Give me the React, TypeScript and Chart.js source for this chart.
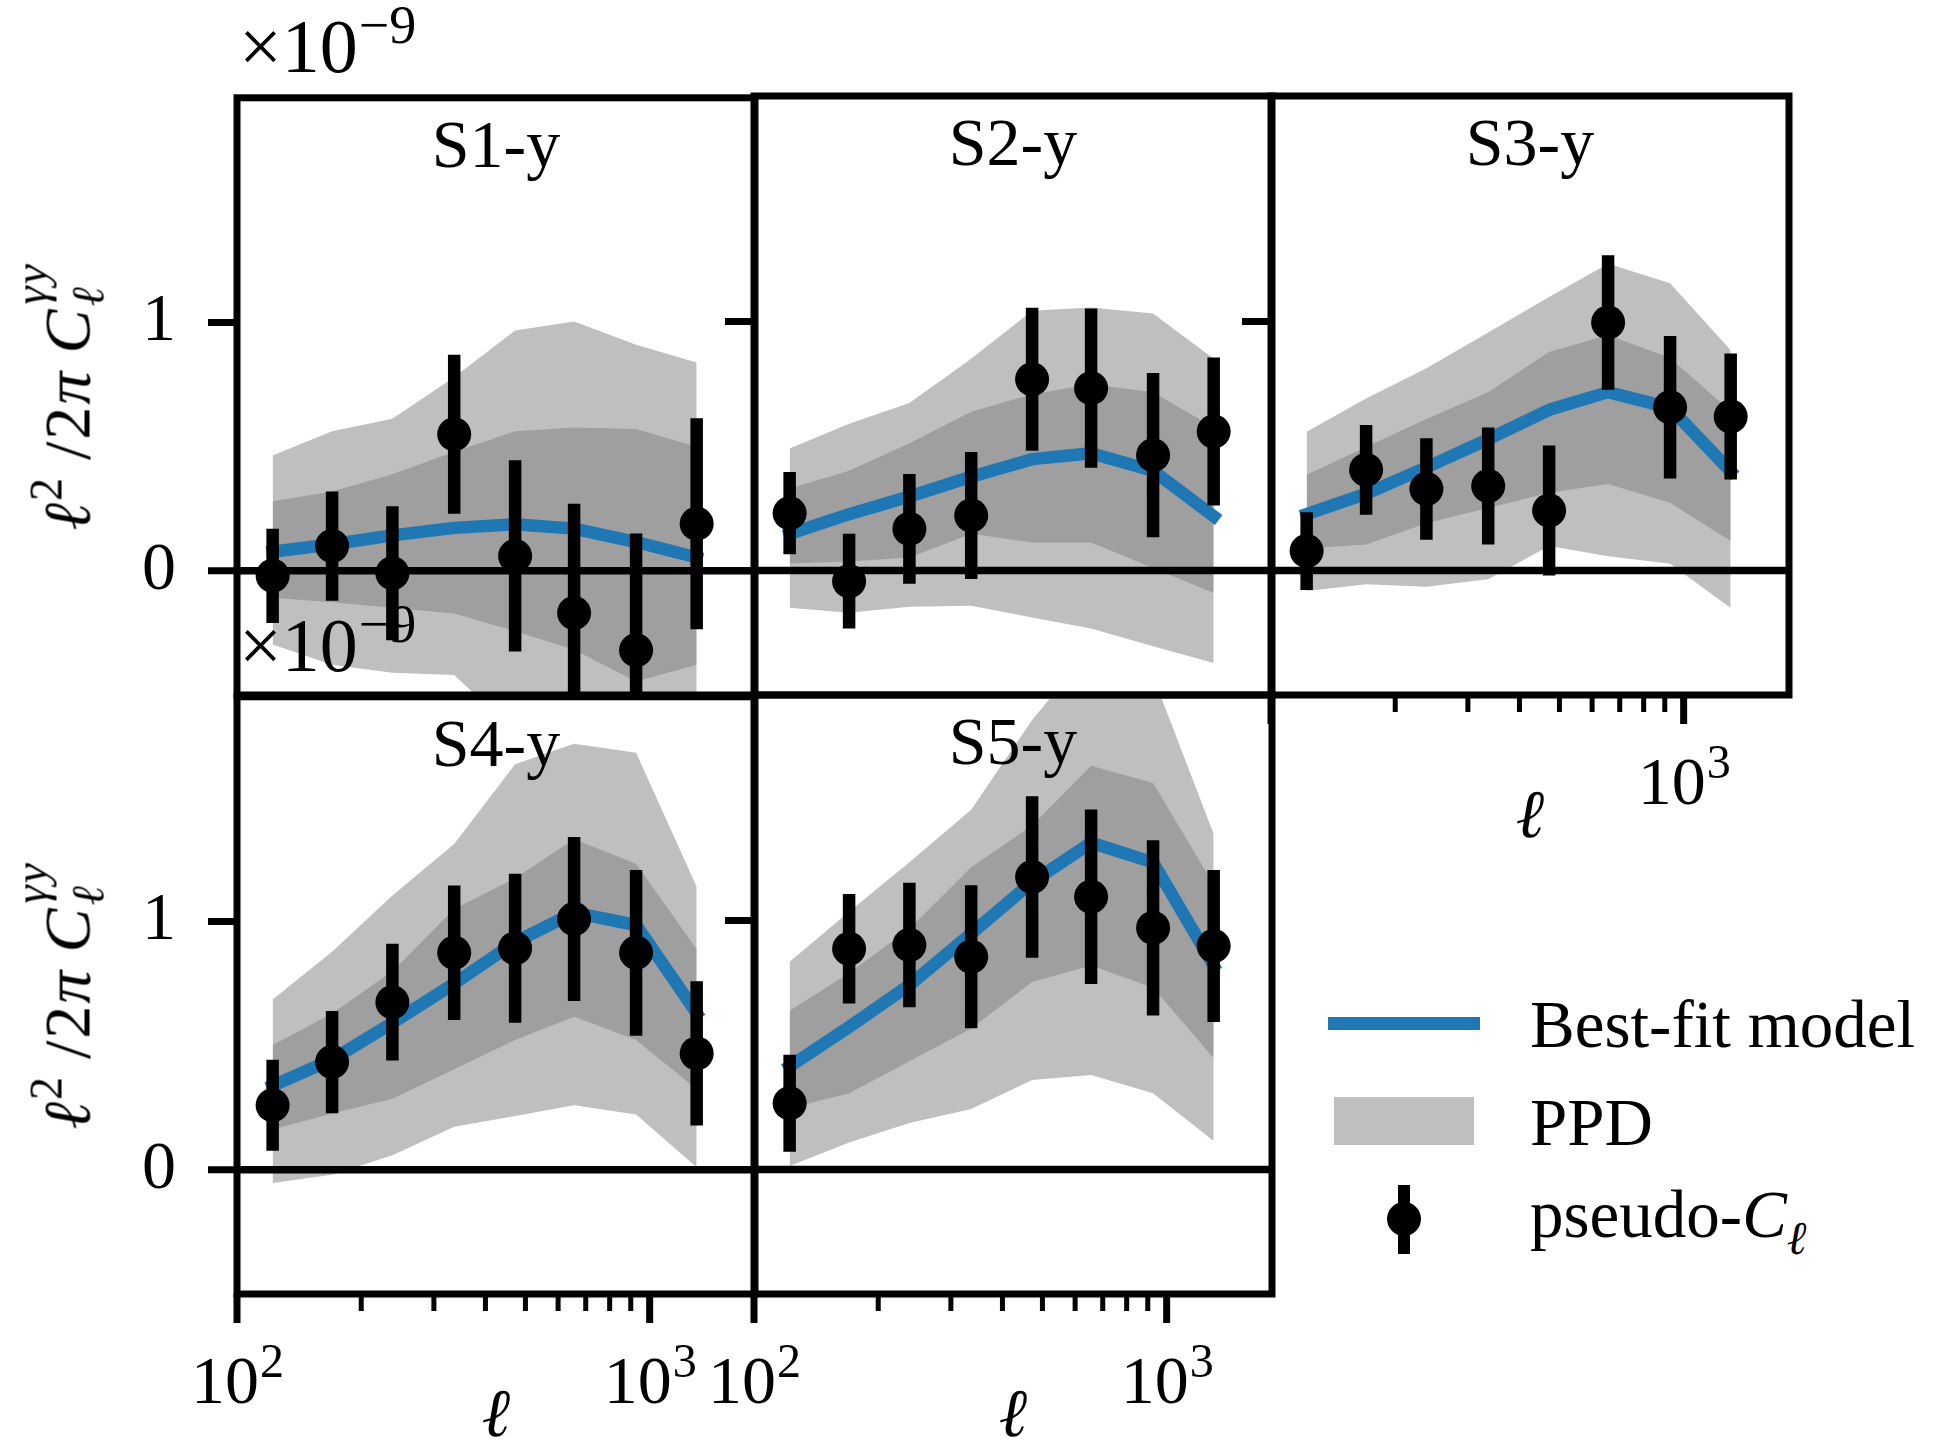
import React, { useEffect, useRef } from "react";
import { Chart, registerables } from "chart.js";

Chart.register(...registerables);

const FONT = '"Liberation Serif", "DejaVu Serif", serif';
const BLUE = "#1f77b4";
const BAND = "rgba(128,128,128,0.5)";

// ---------- data ----------
const ELL = [122, 170, 238, 336, 472, 656, 927, 1300];
const X_MIN = 100;
const X_MAX = 1800;
const Y_MIN = -0.5;
const Y_MAX = 1.905;
const Y_TICKS = [0, 1];
const X_MAJOR_TICKS = [100, 1000];
const X_MINOR_TICKS = [200, 300, 400, 500, 600, 700, 800, 900];
const X_TICK_EXPONENTS = ["2", "3"];
const OFFSET_TEXT = ["×10", "−9"];
const X_TITLE = "ℓ";
const PANEL_NAMES = ["S1-y", "S2-y", "S3-y", "S4-y", "S5-y"];
const LEGEND_LABELS = ["Best-fit model", "PPD", "pseudo-"];

const S1_CL = [-0.02, 0.1, -0.01, 0.55, 0.06, -0.17, -0.32, 0.19];
const S1_ERR = [0.19, 0.22, 0.27, 0.32, 0.385, 0.44, 0.47, 0.425];
const S1_FIT = [0.077, 0.107, 0.143, 0.173, 0.188, 0.17, 0.116, 0.054];
const S1_P95_HI = [0.464, 0.562, 0.612, 0.78, 0.968, 1.004, 0.911, 0.839];
const S1_P95_LO = [-0.297, -0.378, -0.41, -0.419, -0.65, -0.7, -0.72, -0.7];
const S1_P68_HI = [0.28, 0.32, 0.389, 0.48, 0.562, 0.577, 0.571, 0.5];
const S1_P68_LO = [-0.108, -0.126, -0.149, -0.172, -0.243, -0.318, -0.446, -0.378];

const S2_CL = [0.23, -0.043, 0.167, 0.221, 0.768, 0.732, 0.463, 0.558];
const S2_ERR = [0.165, 0.19, 0.22, 0.255, 0.287, 0.32, 0.33, 0.297];
const S2_FIT = [0.147, 0.226, 0.297, 0.376, 0.447, 0.471, 0.4, 0.218];
const S2_P95_HI = [0.49, 0.589, 0.672, 0.85, 1.043, 1.056, 1.032, 0.85];
const S2_P95_LO = [-0.15, -0.17, -0.146, -0.142, -0.189, -0.233, -0.304, -0.372];
const S2_P68_HI = [0.329, 0.4, 0.511, 0.637, 0.708, 0.748, 0.716, 0.574];
const S2_P68_LO = [0.028, 0.036, 0.052, 0.147, 0.112, 0.112, 0.01, -0.09];

const S3_CL = [0.078, 0.404, 0.327, 0.339, 0.241, 0.996, 0.655, 0.618];
const S3_ERR = [0.156, 0.18, 0.204, 0.235, 0.261, 0.27, 0.286, 0.253];
const S3_FIT = [0.226, 0.308, 0.414, 0.527, 0.645, 0.716, 0.653, 0.398];
const S3_P95_HI = [0.557, 0.69, 0.812, 0.955, 1.098, 1.231, 1.153, 0.884];
const S3_P95_LO = [-0.082, -0.055, -0.065, -0.035, 0.098, 0.057, 0.027, -0.151];
const S3_P68_HI = [0.384, 0.496, 0.608, 0.716, 0.877, 0.945, 0.853, 0.639];
const S3_P68_LO = [0.088, 0.104, 0.19, 0.251, 0.312, 0.347, 0.272, 0.118];

const S4_CL = [0.26, 0.434, 0.675, 0.874, 0.892, 1.01, 0.874, 0.469];
const S4_ERR = [0.183, 0.206, 0.235, 0.271, 0.3, 0.33, 0.334, 0.29];
const S4_FIT = [0.339, 0.444, 0.592, 0.75, 0.917, 1.036, 0.986, 0.631];
const S4_P95_HI = [0.686, 0.878, 1.105, 1.312, 1.633, 1.716, 1.68, 1.14];
const S4_P95_LO = [-0.053, -0.02, 0.059, 0.174, 0.217, 0.26, 0.223, 0.01];
const S4_P68_HI = [0.503, 0.63, 0.8, 1.05, 1.174, 1.331, 1.233, 0.888];
const S4_P68_LO = [0.162, 0.227, 0.286, 0.405, 0.523, 0.617, 0.523, 0.325];

const S5_CL = [0.266, 0.886, 0.901, 0.854, 1.174, 1.095, 0.97, 0.897];
const S5_ERR = [0.195, 0.22, 0.25, 0.287, 0.324, 0.35, 0.352, 0.305];
const S5_FIT = [0.414, 0.572, 0.74, 0.947, 1.154, 1.312, 1.233, 0.819];
const S5_P95_HI = [0.834, 1.035, 1.233, 1.444, 1.805, 2.09, 1.98, 1.347];
const S5_P95_LO = [0.014, 0.108, 0.187, 0.243, 0.359, 0.379, 0.306, 0.114];
const S5_P68_HI = [0.637, 0.789, 0.966, 1.213, 1.381, 1.621, 1.552, 1.144];
const S5_P68_LO = [0.247, 0.306, 0.434, 0.566, 0.753, 0.819, 0.73, 0.448];

// ---------- layout ----------
const COL_X = [237, 754, 1271];
const ROW_Y = [96, 695];
const BOX_W = 518;
const BOX_H = 599;
const PAD_L = 130;
const PAD_T = 100;
const PAD_R = 40;
const PAD_B = 160;

type PanelSpec = {
  name: string;
  cl: number[];
  err: number[];
  fit: number[];
  hi95: number[];
  lo95: number[];
  hi68: number[];
  lo68: number[];
  col: number;
  row: number;
  yLabels: boolean;
  xTicks: boolean;
  xLabelVals: number[];
  xTitle: boolean;
  offset: boolean;
};

const PANELS: PanelSpec[] = [
  { name: PANEL_NAMES[0], cl: S1_CL, err: S1_ERR, fit: S1_FIT, hi95: S1_P95_HI, lo95: S1_P95_LO, hi68: S1_P68_HI, lo68: S1_P68_LO, col: 0, row: 0, yLabels: true, xTicks: false, xLabelVals: [], xTitle: false, offset: true },
  { name: PANEL_NAMES[1], cl: S2_CL, err: S2_ERR, fit: S2_FIT, hi95: S2_P95_HI, lo95: S2_P95_LO, hi68: S2_P68_HI, lo68: S2_P68_LO, col: 1, row: 0, yLabels: false, xTicks: false, xLabelVals: [], xTitle: false, offset: false },
  { name: PANEL_NAMES[2], cl: S3_CL, err: S3_ERR, fit: S3_FIT, hi95: S3_P95_HI, lo95: S3_P95_LO, hi68: S3_P68_HI, lo68: S3_P68_LO, col: 2, row: 0, yLabels: false, xTicks: true, xLabelVals: [1000], xTitle: true, offset: false },
  { name: PANEL_NAMES[3], cl: S4_CL, err: S4_ERR, fit: S4_FIT, hi95: S4_P95_HI, lo95: S4_P95_LO, hi68: S4_P68_HI, lo68: S4_P68_LO, col: 0, row: 1, yLabels: true, xTicks: true, xLabelVals: [100, 1000], xTitle: true, offset: true },
  { name: PANEL_NAMES[4], cl: S5_CL, err: S5_ERR, fit: S5_FIT, hi95: S5_P95_HI, lo95: S5_P95_LO, hi68: S5_P68_HI, lo68: S5_P68_LO, col: 1, row: 1, yLabels: false, xTicks: true, xLabelVals: [100, 1000], xTitle: true, offset: false },
];

const pts = (ys: number[]) => ELL.map((x, i) => ({ x, y: ys[i] }));
const errPts = (c: number[], e: number[]) =>
  ELL.flatMap((x, i) => [
    { x, y: c[i] - e[i] },
    { x, y: c[i] + e[i] },
    { x, y: null as any },
  ]);

function drawPow(
  ctx: CanvasRenderingContext2D,
  base: string,
  exp: string,
  x: number,
  baseline: number,
  centered: boolean,
  size: number,
  expSize: number,
  raise: number
) {
  ctx.font = `${size}px ${FONT}`;
  const w1 = ctx.measureText(base).width;
  ctx.font = `${expSize}px ${FONT}`;
  const w2 = ctx.measureText(exp).width;
  const x0 = centered ? x - (w1 + w2) / 2 : x;
  ctx.textAlign = "left";
  ctx.textBaseline = "alphabetic";
  ctx.font = `${size}px ${FONT}`;
  ctx.fillText(base, x0, baseline);
  ctx.font = `${expSize}px ${FONT}`;
  ctx.fillText(exp, x0 + w1 + 1, baseline - raise);
}

function Panel({ p }: { p: PanelSpec }) {
  const ref = useRef<HTMLCanvasElement>(null);
  const cw = BOX_W + PAD_L + PAD_R;
  const ch = BOX_H + PAD_T + PAD_B;
  useEffect(() => {
    if (!ref.current) return;
    const plugin = {
      id: "axesDecor",
      afterDraw(chart: any) {
        const { ctx, chartArea: a, scales } = chart;
        const xs = scales.x;
        const ys = scales.y;
        ctx.save();
        ctx.strokeStyle = "#000";
        ctx.fillStyle = "#000";
        ctx.lineCap = "butt";
        // y ticks (outward, left)
        ctx.lineWidth = 7;
        ctx.beginPath();
        for (const v of Y_TICKS) {
          const y = ys.getPixelForValue(v);
          ctx.moveTo(a.left - 29, y);
          ctx.lineTo(a.left, y);
        }
        ctx.stroke();
        if (p.xTicks) {
          ctx.lineWidth = 7;
          ctx.beginPath();
          for (const v of X_MAJOR_TICKS) {
            const x = xs.getPixelForValue(v);
            ctx.moveTo(x, a.bottom);
            ctx.lineTo(x, a.bottom + 29);
          }
          ctx.stroke();
          ctx.lineWidth = 5;
          ctx.beginPath();
          for (const v of X_MINOR_TICKS) {
            const x = xs.getPixelForValue(v);
            ctx.moveTo(x, a.bottom);
            ctx.lineTo(x, a.bottom + 17);
          }
          ctx.stroke();
        }
        // frame
        ctx.lineWidth = 7;
        ctx.strokeRect(a.left, a.top, a.right - a.left, a.bottom - a.top);
        // title
        ctx.font = `68px ${FONT}`;
        ctx.textAlign = "center";
        ctx.textBaseline = "alphabetic";
        ctx.fillText(p.name, (a.left + a.right) / 2, a.top + 69);
        // x tick labels
        X_MAJOR_TICKS.forEach((v, i) => {
          if (p.xLabelVals.indexOf(v) < 0) return;
          drawPow(ctx, "10", X_TICK_EXPONENTS[i], xs.getPixelForValue(v), a.bottom + 109, true, 68, 48, 26);
        });
        // x title
        if (p.xTitle) {
          ctx.font = `italic 68px ${FONT}`;
          ctx.textAlign = "center";
          ctx.fillText(X_TITLE, (a.left + a.right) / 2, a.bottom + 142);
        }
        // offset text
        if (p.offset) {
          drawPow(ctx, OFFSET_TEXT[0], OFFSET_TEXT[1], a.left + 2, a.top - 26, false, 76, 54, 29);
        }
        ctx.restore();
      },
    };
    const chart = new Chart(ref.current, {
      type: "line",
      data: {
        datasets: [
          { data: pts(p.hi95), fill: "+1", backgroundColor: BAND, borderColor: "rgba(0,0,0,0)", borderWidth: 0, pointRadius: 0, order: 5, clip: 0 },
          { data: pts(p.lo95), fill: false, borderColor: "rgba(0,0,0,0)", borderWidth: 0, pointRadius: 0, order: 5, clip: 0 },
          { data: pts(p.hi68), fill: "+1", backgroundColor: BAND, borderColor: "rgba(0,0,0,0)", borderWidth: 0, pointRadius: 0, order: 4, clip: 0 },
          { data: pts(p.lo68), fill: false, borderColor: "rgba(0,0,0,0)", borderWidth: 0, pointRadius: 0, order: 4, clip: 0 },
          { data: [{ x: X_MIN, y: 0 }, { x: X_MAX, y: 0 }], borderColor: "#000", borderWidth: 7.5, pointRadius: 0, fill: false, order: 3, clip: 0 },
          { data: pts(p.fit), borderColor: BLUE, borderWidth: 12.5, borderCapStyle: "square", borderJoinStyle: "round", pointRadius: 0, fill: false, order: 2, clip: 0 },
          { data: errPts(p.cl, p.err), borderColor: "#000", borderWidth: 12.5, borderCapStyle: "butt", pointRadius: 0, fill: false, spanGaps: false, order: 1, clip: 0 },
          { data: pts(p.cl), showLine: false, pointRadius: 17, pointBackgroundColor: "#000", pointBorderWidth: 0, borderColor: "#000", fill: false, order: 0, clip: 0 },
        ] as any,
      },
      options: {
        responsive: false,
        animation: false,
        devicePixelRatio: 1,
        events: [],
        layout: { padding: { left: 0, top: PAD_T, right: PAD_R, bottom: 0 } },
        plugins: { legend: { display: false }, tooltip: { enabled: false }, title: { display: false } },
        scales: {
          x: {
            type: "logarithmic",
            min: X_MIN,
            max: X_MAX,
            grid: { display: false, drawTicks: false },
            border: { display: false },
            ticks: { display: false },
            afterFit: (s: any) => {
              s.height = PAD_B;
            },
          },
          y: {
            type: "linear",
            min: Y_MIN,
            max: Y_MAX,
            grid: { display: false, drawTicks: false },
            border: { display: false },
            afterBuildTicks: (s: any) => {
              s.ticks = Y_TICKS.map((v) => ({ value: v }));
            },
            ticks: {
              display: p.yLabels,
              padding: 61,
              color: "#000",
              font: { family: FONT, size: 68 },
              callback: (v: any) => String(v),
            },
            afterFit: (s: any) => {
              s.width = PAD_L;
            },
          },
        },
      } as any,
      plugins: [plugin],
    });
    return () => chart.destroy();
  }, [p]);
  return (
    <canvas
      ref={ref}
      width={cw}
      height={ch}
      style={{
        position: "absolute",
        left: COL_X[p.col] - PAD_L,
        top: ROW_Y[p.row] - PAD_T,
        width: cw,
        height: ch,
      }}
    />
  );
}

function YLabel({ cy }: { cy: number }) {
  const gap = (w: number) => <span style={{ display: "inline-block", width: w }} />;
  return (
    <div
      style={{
        position: "absolute",
        left: 71,
        top: cy,
        transform: "translate(-50%, -50%) rotate(-90deg)",
        fontFamily: FONT,
        fontSize: 66,
        lineHeight: "66px",
        whiteSpace: "nowrap",
        color: "#000",
        letterSpacing: 2,
      }}
    >
      <i>ℓ</i>
      <span style={{ fontSize: 46, position: "relative", top: -28 }}>2</span>
      {gap(16)}
      <span>/2</span>
      <i>π</i>
      {gap(16)}
      <i>C</i>
      <span style={{ display: "inline-block", position: "relative", width: 46, height: 40 }}>
        <i style={{ position: "absolute", left: 3, top: -41, fontSize: 46, lineHeight: "46px" }}>γy</i>
        <i style={{ position: "absolute", left: 1, top: 16, fontSize: 46, lineHeight: "46px" }}>ℓ</i>
      </span>
    </div>
  );
}

function textStyle(left: number, baseline: number): React.CSSProperties {
  return {
    position: "absolute",
    left,
    top: baseline - 56,
    fontFamily: FONT,
    fontSize: 67,
    lineHeight: "67px",
    whiteSpace: "nowrap",
    color: "#000",
  };
}

export default function App() {
  return (
    <div style={{ position: "absolute", left: 0, top: 0, width: 1935, height: 1447, background: "#fff", overflow: "hidden" }}>
      {PANELS.map((p) => (
        <Panel key={p.name} p={p} />
      ))}
      <YLabel cy={ROW_Y[0] + BOX_H / 2} />
      <YLabel cy={ROW_Y[1] + BOX_H / 2} />
      {/* legend */}
      <div style={{ position: "absolute", left: 1328, top: 1017, width: 152, height: 12.5, background: BLUE }} />
      <div style={textStyle(1530, 1047)}>{LEGEND_LABELS[0]}</div>
      <div style={{ position: "absolute", left: 1334, top: 1097, width: 140, height: 48, background: "#bfbfbf" }} />
      <div style={textStyle(1530, 1145)}>{LEGEND_LABELS[1]}</div>
      <div style={{ position: "absolute", left: 1404 - 6.25, top: 1185, width: 12.5, height: 69, background: "#000" }} />
      <div style={{ position: "absolute", left: 1404 - 17, top: 1219 - 17, width: 34, height: 34, borderRadius: "50%", background: "#000" }} />
      <div style={textStyle(1530, 1237)}>
        {LEGEND_LABELS[2]}
        <i>C</i>
        <i style={{ fontSize: 47, position: "relative", top: 17 }}>ℓ</i>
      </div>
    </div>
  );
}
